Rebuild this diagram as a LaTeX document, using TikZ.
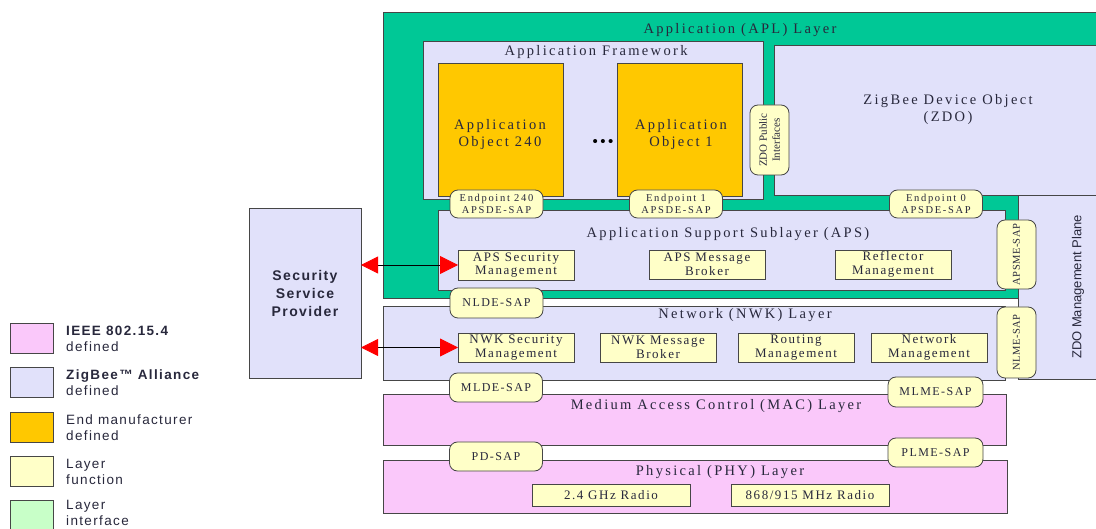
\documentclass[tikz,border=0pt]{standalone}
\usepackage{fontspec}
\setmainfont{Liberation Serif}[LetterSpace=16]
\setsansfont{Liberation Sans}[LetterSpace=10]
\usetikzlibrary{arrows.meta}

\begin{document}
\begin{tikzpicture}[x=1pt,y=-1pt,
    box/.style={draw=edgegray, line width=0.8pt, inner sep=0pt, outer sep=0pt, anchor=north west},
    layer/.style={box, fill=zblue},
    func/.style={box, fill=funcyellow, text=textgray, align=center, font=\fontsize{13}{13.5}\selectfont\addfontfeature{LetterSpace=12}},
    sap/.style={draw=edgegray, line width=0.8pt, fill=funcyellow, rounded corners=8pt, inner sep=0pt, outer sep=0pt, text=textgray, align=center, font=\fontsize{12}{13}\selectfont\addfontfeature{LetterSpace=12}},
    sideways/.style={sap, rotate=90, minimum height=39pt, font=\fontsize{10.5}{12}\selectfont\addfontfeature{LetterSpace=4}},
    title/.style={text=textgray, align=center, inner sep=0pt, font=\fontsize{14.5}{17}\selectfont},
    key/.style={box, minimum width=43pt, minimum height=30pt},
    keytext/.style={anchor=west, inner sep=0pt, align=left, text=textgray, font=\sffamily\fontsize{13.5}{16}\selectfont},
    secarrow/.style={{Triangle[color=red,length=17pt,width=17pt]}-{Triangle[color=red,length=18pt,width=18pt]}, line width=0.8pt}
  ]
  \definecolor{aplgreen}{RGB}{0,200,150}
  \definecolor{zblue}{RGB}{225,225,250}
  \definecolor{ieeepink}{RGB}{250,200,250}
  \definecolor{mfrorange}{RGB}{255,200,0}
  \definecolor{funcyellow}{RGB}{255,255,200}
  \definecolor{ifgreen}{RGB}{200,255,200}
  \definecolor{edgegray}{RGB}{70,70,70}
  \definecolor{textgray}{RGB}{40,40,60}
  \useasboundingbox (0,0) rectangle (1096,529);
  \clip (0,0) rectangle (1096,529);

  % application layer
  \node[box, fill=aplgreen, minimum width=720pt, minimum height=286pt] (apl) at (383,12) {};
  \node[title] (apltitle) at (740,30) {Application (APL) Layer};
  \node[layer, minimum width=340pt, minimum height=158pt] (framework) at (423,41) {};
  \node[title] (fwtitle) at (596,52) {Application Framework};
  \node[box, fill=mfrorange, minimum width=125pt, minimum height=133pt] (obj240) at (438,63) {};
  \node[title] (obj240text) at (500,135) {Application\\Object 240};
  \node[box, fill=mfrorange, minimum width=125pt, minimum height=133pt] (obj1) at (617,63) {};
  \node[title] (obj1text) at (681,135) {Application\\Object 1};
  \node[title, text=black, font=\bfseries\fontsize{15}{16}\selectfont] (dots) at (603,143) {\textbullet\,\textbullet\,\textbullet};
  \node[layer, minimum width=330pt, minimum height=150pt] (zdo) at (774,45) {};
  \node[title] (zdotext) at (948,110) {ZigBee Device Object\\(ZDO)};
  \node[sideways, minimum width=70pt, font=\fontsize{11}{13}\selectfont\addfontfeature{LetterSpace=0}] (zdopub) at (769.5,140) {ZDO Public\\Interfaces};

  % management plane
  \node[layer, minimum width=90pt, minimum height=184pt] (plane) at (1018,195) {};
  \node[title, rotate=90, font=\sffamily\fontsize{13}{15}\selectfont\addfontfeature{LetterSpace=0}] (planetext) at (1078,287) {ZDO Management Plane};

  % aps
  \node[layer, minimum width=567pt, minimum height=80pt] (aps) at (438,210) {};
  \node[title] (apstitle) at (728,234) {Application Support Sublayer (APS)};
  \node[func, minimum width=116pt, minimum height=30pt] (apssec) at (458,250) {APS Security\\Management};
  \node[func, minimum width=116pt, minimum height=29pt] (apsbroker) at (649,250) {APS Message\\Broker};
  \node[func, minimum width=116pt, minimum height=29pt] (reflector) at (835,250) {Reflector\\Management};
  \node[sap, minimum width=93pt, minimum height=28pt, font=\fontsize{10.5}{12}\selectfont] (ep240) at (496.5,204) {Endpoint 240\\APSDE-SAP};
  \node[sap, minimum width=93pt, minimum height=28pt, font=\fontsize{10.5}{12}\selectfont] (ep1) at (676,204) {Endpoint 1\\APSDE-SAP};
  \node[sap, minimum width=93pt, minimum height=28pt, font=\fontsize{10.5}{12}\selectfont] (ep0) at (936,204) {Endpoint 0\\APSDE-SAP};
  \node[sideways, minimum width=69pt] (apsme) at (1016.5,254.5) {APSME-SAP};

  % network layer
  \node[layer, minimum width=622pt, minimum height=74pt] (nwk) at (383,306) {};
  \node[title] (nwktitle) at (745,315) {Network (NWK) Layer};
  \node[func, minimum width=116pt, minimum height=29pt] (nwksec) at (458,333) {NWK Security\\Management};
  \node[func, minimum width=116pt, minimum height=29pt] (nwkbroker) at (600,333) {NWK Message\\Broker};
  \node[func, minimum width=116pt, minimum height=29pt] (routing) at (738,333) {Routing\\Management};
  \node[func, minimum width=116pt, minimum height=29pt] (netmgmt) at (871,333) {Network\\Management};
  \node[sap, minimum width=93pt, minimum height=30pt] (nlde) at (496.5,303) {NLDE-SAP};
  \node[sideways, minimum width=71pt] (nlme) at (1016.5,342.5) {NLME-SAP};

  % mac and phy
  \node[box, fill=ieeepink, minimum width=623pt, minimum height=51pt] (mac) at (383,394) {};
  \node[title] (mactitle) at (716,406) {Medium Access Control (MAC) Layer};
  \node[sap, minimum width=93pt, minimum height=29pt] (mlde) at (496,387.5) {MLDE-SAP};
  \node[sap, minimum width=95pt, minimum height=30pt] (mlme) at (935.5,392) {MLME-SAP};
  \node[box, fill=ieeepink, minimum width=624pt, minimum height=53pt] (phy) at (383,460) {};
  \node[title] (phytitle) at (720,472) {Physical (PHY) Layer};
  \node[sap, minimum width=93pt, minimum height=29pt] (pdsap) at (496,456.5) {PD-SAP};
  \node[sap, minimum width=95pt, minimum height=29pt] (plme) at (935.5,452.5) {PLME-SAP};
  \node[func, minimum width=158pt, minimum height=22pt] (radio24) at (532,484) {2.4 GHz Radio};
  \node[func, minimum width=158pt, minimum height=22pt] (radio868) at (731,484) {868/915 MHz Radio};

  % security service provider
  \node[layer, minimum width=112pt, minimum height=170pt] (ssp) at (249,208) {};
  \node[title, font=\sffamily\bfseries\fontsize{14}{18}\selectfont] (ssptext) at (ssp.center) {Security\\Service\\Provider};
  \draw[secarrow] (ssp.east |- apssec.west) -- (apssec.west);
  \draw[secarrow] (ssp.east |- nwksec.west) -- (nwksec.west);

  % legend
  \node[key, fill=ieeepink] (key1) at (10,323) {};
  \node[keytext] (key1text) at (66,339) {\textbf{IEEE 802.15.4}\\defined};
  \node[key, fill=zblue] (key2) at (10,367) {};
  \node[keytext] (key2text) at (66,383) {\textbf{ZigBee™ Alliance}\\defined};
  \node[key, fill=mfrorange] (key3) at (10,412) {};
  \node[keytext] (key3text) at (66,428) {End manufacturer\\defined};
  \node[key, fill=funcyellow] (key4) at (10,456) {};
  \node[keytext] (key4text) at (66,472) {Layer\\function};
  \node[key, fill=ifgreen] (key5) at (10,500) {};
  \node[keytext] (key5text) at (66,513) {Layer\\interface};
\end{tikzpicture}
\end{document}
